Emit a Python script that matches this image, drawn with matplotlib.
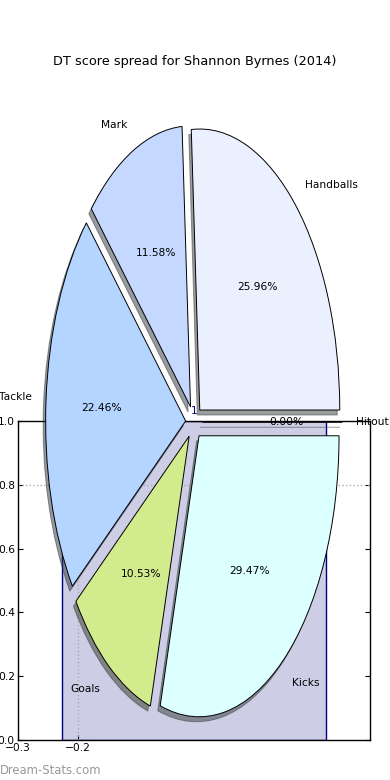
import matplotlib
matplotlib.use("Agg")
import matplotlib.pyplot as plt

# ---- data ----
labels = ['Handballs', 'Mark', 'Tackle', 'Goals', 'Kicks', 'Hitout']
values = [148, 66, 128, 60, 168, 0]
explode = [0.06, 0.06, 0.06, 0.06, 0.06, 0.06]
colors = ['#ebf0ff', '#c5d8ff', '#b3d5ff', '#d2eb8c', '#dcffff', '#ffe0e0']
title = 'DT score spread for Shannon Byrnes (2014)'

bar_left, bar_right, bar_height = -0.2264, 0.218, 1.0
xticks = [-0.3, -0.2]
yticks = [0.0, 0.2, 0.4, 0.6, 0.8, 1.0]

FS = 7.7
fig = plt.figure(figsize=(3.9, 7.8), dpi=100)
fig.patch.set_facecolor('white')

# ---- background axes with filled bar ----
ax = fig.add_axes([18.3 / 390, 40 / 780, (370.3 - 18.3) / 390, 319 / 780])
ax.bar(bar_left, bar_height, width=bar_right - bar_left, align='edge',
       color='#cdcde6', edgecolor='#000080', linewidth=1.0, zorder=1)
ax.axhline(0.8, ls=':', color='#aaaaaa', lw=1.0, zorder=2)
ax.axvline(-0.2, ls=':', color='#aaaaaa', lw=1.0, zorder=2)
ax.set_xlim(-0.3, 0.292)
ax.set_ylim(0, 1.0)
ax.set_xticks(xticks)
ax.set_yticks(yticks)
ax.tick_params(direction='in', length=3.5, width=0.8, top=True, right=True,
               labelsize=FS, pad=2.5)
for s in ax.spines.values():
    s.set_linewidth(1.0)

# ---- pie axes on top ----
ax2 = fig.add_axes([0, 0, 1, 1])
ax2.patch.set_alpha(0)
wedges, texts, autotexts = ax2.pie(
    values, labels=labels, explode=explode, colors=colors,
    shadow={'ox': -0.0128, 'oy': -0.0128, 'shade': 0.75},
    autopct='%1.2f%%', startangle=0, labeldistance=1.1, pctdistance=0.6,
    wedgeprops=dict(edgecolor='black', linewidth=0.7),
    textprops=dict(fontsize=FS))
ax2.set_aspect('auto')
ax2.set_xlim(-194 / 140, 196 / 140)
ax2.set_ylim(-357.7 / 281, 422.3 / 281)
ax2.axis('off')

fig.text(194 / 390, 1 - 411 / 780, '1', color='#000080', fontsize=FS,
         ha='center', va='center')
fig.text(0.5, 1 - 61 / 780, title, fontsize=9.3, ha='center', va='center')
fig.text(0.0, 1 - 770 / 780, 'Dream-Stats.com', fontsize=8.4, color='#999999',
         ha='left', va='center')

fig.savefig('out.png', dpi=100)
